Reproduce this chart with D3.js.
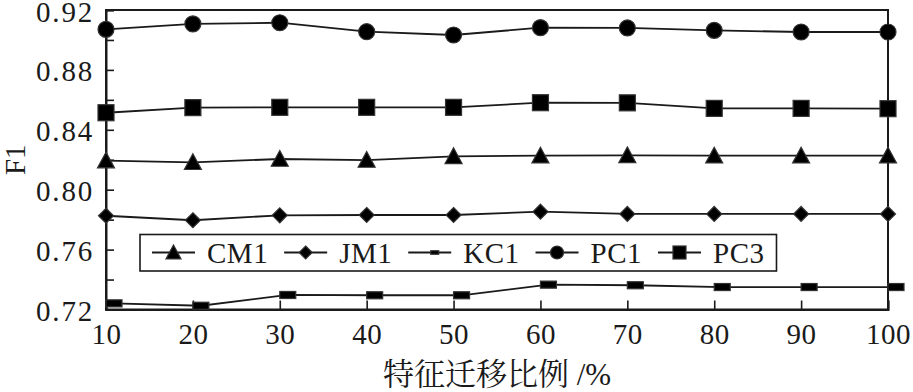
<!DOCTYPE html>
<html>
<head>
<meta charset="utf-8">
<script src="https://cdn.jsdelivr.net/npm/d3@7"></script>
<style>
  html, body { margin: 0; padding: 0; background: #fff; }
  svg { display: block; }
</style>
</head>
<body>
<svg id="chart" width="913" height="392"></svg>
<script>
// ---- data ----
const ratios = [10, 20, 30, 40, 50, 60, 70, 80, 90, 100];
const seriesNames = ["CM1", "JM1", "KC1", "PC1", "PC3"];
const CM1 = [0.8194, 0.8183, 0.8205, 0.8198, 0.8223, 0.8227, 0.8229, 0.8227, 0.8227, 0.8227];
const JM1 = [0.7826, 0.7796, 0.7829, 0.7831, 0.7831, 0.7853, 0.7838, 0.7838, 0.7838, 0.7838];
const KC1 = [0.7241, 0.7225, 0.7297, 0.7295, 0.7295, 0.7366, 0.7362, 0.7350, 0.7350, 0.7350];
const PC1 = [0.9071, 0.9107, 0.9115, 0.9055, 0.9033, 0.9082, 0.9080, 0.9064, 0.9053, 0.9053];
const PC3 = [0.8514, 0.8548, 0.8550, 0.8550, 0.8550, 0.8581, 0.8580, 0.8543, 0.8543, 0.8541];
const yTickValues = [0.72, 0.76, 0.80, 0.84, 0.88, 0.92];
const yMinorTickValues = [0.74, 0.78, 0.82, 0.86, 0.90];
const xTickValues = [10, 20, 30, 40, 50, 60, 70, 80, 90, 100];
const xLabel = "特征迁移比例 /%";
const yLabel = "F1";

const seriesValues = { CM1, JM1, KC1, PC1, PC3 };

// ---- styles ----
const markerStyle = {
  CM1: { type: "triangle", size: 17, legendSize: 15, dx: 0 },
  JM1: { type: "diamond", size: 15, legendSize: 13, dx: 0 },
  KC1: { type: "bar", size: 16, legendSize: 8, dx: 8 },
  PC1: { type: "circle", size: 16, legendSize: 13, dx: 0 },
  PC3: { type: "square", size: 16, legendSize: 13, dx: 0 }
};
const drawOrder = ["PC1", "PC3", "CM1", "JM1", "KC1"];
const FONT = "'Liberation Serif', 'Noto Serif CJK SC', 'Noto Sans CJK SC', serif";

const svg = d3.select("#chart");
const plotL = 106, plotR = 888, plotT = 10, plotB = 309.5;

const x = d3.scaleLinear().domain([10, 100]).range([plotL, plotR]);
const y = d3.scaleLinear().domain([0.72, 0.92]).range([plotB, plotT]);

// frame
svg.append("rect")
  .attr("x", plotL).attr("y", plotT)
  .attr("width", plotR - plotL).attr("height", plotB - plotT)
  .attr("fill", "none").attr("stroke", "#1a1a1a").attr("stroke-width", 2);

// y axis
const yAxis = svg.append("g").attr("transform", `translate(${plotL},0)`)
  .call(d3.axisLeft(y).tickValues(yTickValues).tickSize(-8).tickPadding(12)
    .tickFormat(d3.format(".2f")));
svg.append("g").attr("transform", `translate(${plotL},0)`)
  .call(d3.axisLeft(y).tickValues(yMinorTickValues).tickSize(-8).tickFormat(""))
  .call(g => g.select(".domain").remove());

// x axis
const xAxis = svg.append("g").attr("transform", `translate(0,${plotB})`)
  .call(d3.axisBottom(x).tickValues(xTickValues).tickSize(-9).tickPadding(14)
    .tickFormat(d3.format("d")));

svg.selectAll(".domain").attr("stroke", "#1a1a1a").attr("stroke-width", 2);
svg.selectAll(".tick line").attr("stroke", "#1a1a1a").attr("stroke-width", 1.6);
svg.selectAll(".tick text")
  .attr("font-family", FONT).attr("font-size", 29).attr("fill", "#1a1a1a")
  .attr("letter-spacing", 0.5);
yAxis.selectAll(".tick text").attr("letter-spacing", 1.8).attr("dy", "0.38em");
xAxis.selectAll(".tick text").attr("dy", "0.72em");

// axis labels
svg.append("text")
  .attr("transform", `translate(25,${(plotT + plotB) / 2}) rotate(-90)`)
  .attr("text-anchor", "middle")
  .attr("font-family", FONT).attr("font-size", 29).attr("fill", "#1a1a1a")
  .text(yLabel);
svg.append("text")
  .attr("x", (plotL + plotR) / 2).attr("y", 385)
  .attr("text-anchor", "middle")
  .attr("font-family", FONT).attr("font-size", 31).attr("fill", "#1a1a1a")
  .text(xLabel);

// marker drawing
function drawMarker(g, type, s) {
  const h = s / 2;
  let el;
  if (type === "circle") {
    el = g.append("circle").attr("r", h);
  } else if (type === "square") {
    el = g.append("rect").attr("x", -h).attr("y", -h).attr("width", s).attr("height", s);
  } else if (type === "triangle") {
    el = g.append("path").attr("d", `M0,${-h}L${h},${h * 0.85}L${-h},${h * 0.85}Z`);
  } else if (type === "diamond") {
    el = g.append("path").attr("d", `M0,${-h}L${h},0L0,${h}L${-h},0Z`);
  } else if (type === "bar") {
    const bh = s * 0.44;
    el = g.append("rect").attr("x", -h).attr("y", -bh / 2).attr("width", s).attr("height", bh);
  }
  el.attr("fill", "#000").attr("stroke", "#333").attr("stroke-width", 1.2);
}

const line = d3.line().x(d => x(d[0])).y(d => y(d[1]));

drawOrder.forEach(name => {
  const st = markerStyle[name];
  const pts = ratios.map((r, i) => [r, seriesValues[name][i]]);
  const g = svg.append("g").attr("transform", `translate(${st.dx},0)`);
  g.append("path").datum(pts).attr("d", line)
    .attr("fill", "none").attr("stroke", "#1a1a1a").attr("stroke-width", 1.8);
  pts.forEach(p => {
    const mg = g.append("g").attr("transform", `translate(${x(p[0])},${y(p[1])})`);
    drawMarker(mg, st.type, st.size);
  });
});

// legend
const legend = svg.append("g");
const legendBox = legend.append("rect")
  .attr("fill", "#fff").attr("stroke", "#1a1a1a").attr("stroke-width", 1.6);
const legendY = 252.5;
let cx = 152;
seriesNames.forEach((name) => {
  const st = markerStyle[name];
  legend.append("line")
    .attr("x1", cx).attr("x2", cx + 43).attr("y1", legendY).attr("y2", legendY)
    .attr("stroke", "#1a1a1a").attr("stroke-width", 1.8);
  const mg = legend.append("g").attr("transform", `translate(${cx + 21.5 + (name === "KC1" ? 5 : 0)},${legendY})`);
  drawMarker(mg, st.type, st.legendSize);
  const t = legend.append("text")
    .attr("x", cx + 55).attr("y", legendY + 10.5)
    .attr("font-family", FONT).attr("font-size", 29).attr("fill", "#1a1a1a")
    .attr("letter-spacing", 0.5)
    .text(name);
  const w = t.node().getComputedTextLength();
  cx = cx + 55 + w + 16;
});
legendBox.attr("x", 140).attr("y", 234.5).attr("width", cx - 4 - 140).attr("height", 36.5);
</script>
</body>
</html>
